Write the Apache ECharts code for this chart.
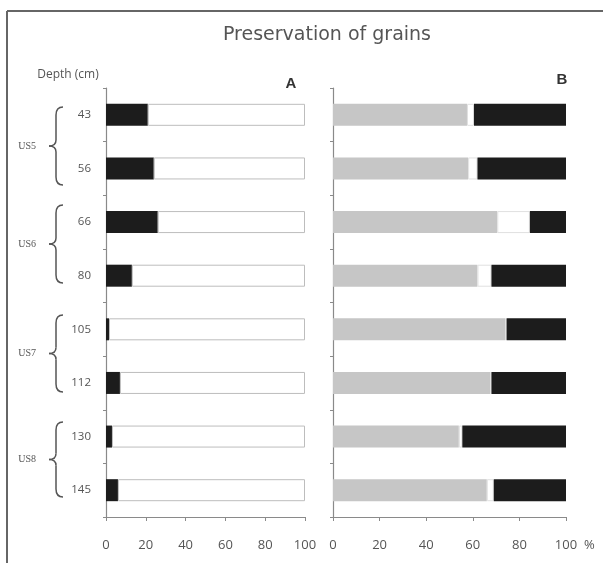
<!DOCTYPE html>
<html>
<head>
<meta charset="utf-8">
<script src="https://cdn.jsdelivr.net/npm/echarts@6/dist/echarts.min.js"></script>
<style>html,body{margin:0;padding:0;background:#fff}#c{width:603px;height:563px}</style>
</head>
<body>
<div id="c"></div>
<script>
var depths = ['43','56','66','80','105','112','130','145'];
var aBlack = [21, 24, 26, 13, 1.5, 7, 3, 6];
var aWhite = [79, 76, 74, 87, 98.5, 93, 97, 94];
var bGray  = [57.5, 58, 70.5, 62, 74, 67.5, 54, 66];
var bWhite = [3, 4, 14, 6, 0.5, 0.5, 1.5, 3];
var bBlack = [39.5, 38, 15.5, 32, 25.5, 32, 44.5, 31];
var xTicks = [0, 20, 40, 60, 80, 100];
var units = [
  {name:'US5', y1:107, y2:185},
  {name:'US6', y1:205, y2:283},
  {name:'US7', y1:315, y2:392},
  {name:'US8', y1:422, y2:497}
];

var chart = echarts.init(document.getElementById('c'));
var axisGray = '#8a8a8a';
var labelFont = {color:'#555', fontFamily:'Open Sans', fontSize:13};

function xAx(idx){
  return {
    type:'value', gridIndex:idx, min:xTicks[0], max:xTicks[xTicks.length-1], interval:20,
    axisLine:{show:true, lineStyle:{color:axisGray, width:1.2}},
    axisTick:{show:true, length:4, lineStyle:{color:axisGray}},
    splitLine:{show:false},
    axisLabel:Object.assign({margin:22}, labelFont)
  };
}
function yAx(idx, showLabel){
  return {
    type:'category', gridIndex:idx, data:depths, inverse:true,
    axisLine:{show:true, lineStyle:{color:axisGray, width:1.2}},
    axisTick:{show:true, length:3, lineStyle:{color:axisGray}},
    axisLabel:{show:showLabel, color:'#555', fontFamily:'Open Sans', fontSize:11.5, margin:15}
  };
}

function braceParts(u){
  var x0=63, xm=56, xt=49, ym=(u.y1+u.y2)/2;
  var st = {stroke:'#555', lineWidth:1.5, fill:null};
  return [
    {type:'bezierCurve', shape:{x1:x0, y1:u.y1, x2:xm, y2:u.y1+8, cpx1:xm, cpy1:u.y1}, style:st},
    {type:'line', shape:{x1:xm, y1:u.y1+8, x2:xm, y2:ym-6}, style:st},
    {type:'bezierCurve', shape:{x1:xm, y1:ym-6, x2:xt, y2:ym, cpx1:xm, cpy1:ym}, style:st},
    {type:'bezierCurve', shape:{x1:xt, y1:ym, x2:xm, y2:ym+6, cpx1:xm, cpy1:ym}, style:st},
    {type:'line', shape:{x1:xm, y1:ym+6, x2:xm, y2:u.y2-8}, style:st},
    {type:'bezierCurve', shape:{x1:xm, y1:u.y2-8, x2:x0, y2:u.y2, cpx1:xm, cpy1:u.y2}, style:st}
  ];
}

var graphics = [
  {type:'line', shape:{x1:7, y1:11, x2:603, y2:11}, style:{stroke:'#666', lineWidth:2}},
  {type:'line', shape:{x1:7, y1:11, x2:7, y2:563}, style:{stroke:'#666', lineWidth:2}},
  {type:'text', x:327, y:35, style:{text:'Preservation of grains', font:'19px "DejaVu Sans"', fill:'#555', align:'center', verticalAlign:'middle'}},
  {type:'text', x:68, y:75, style:{text:'Depth (cm)', font:'12px "Open Sans"', fill:'#555', align:'center', verticalAlign:'middle'}},
  {type:'text', x:291, y:84, style:{text:'A', font:'bold 15px "Liberation Sans"', fill:'#333', align:'center', verticalAlign:'middle'}},
  {type:'text', x:562, y:80, style:{text:'B', font:'bold 15px "Liberation Sans"', fill:'#333', align:'center', verticalAlign:'middle'}},
  {type:'text', x:584, y:545, style:{text:'%', font:'13px "Open Sans"', fill:'#555', align:'left', verticalAlign:'middle'}}
];
units.forEach(function(u){
  graphics = graphics.concat(braceParts(u));
  graphics.push({type:'text', x:36, y:(u.y1+u.y2)/2, style:{text:u.name, font:'10px "Liberation Serif"', fill:'#555', align:'right', verticalAlign:'middle'}});
});

chart.setOption({
  animation:false,
  backgroundColor:'#fff',
  grid:[
    {left:106, top:88, width:199, height:429},
    {left:333, top:88, width:233, height:429}
  ],
  xAxis:[xAx(0), xAx(1)],
  yAxis:[yAx(0,true), yAx(1,false)],
  series:[
    {type:'bar', xAxisIndex:0, yAxisIndex:0, stack:'a', data:aBlack, barWidth:22, itemStyle:{color:'#1c1c1c'}},
    {type:'bar', xAxisIndex:0, yAxisIndex:0, stack:'a', data:aWhite, barWidth:22, itemStyle:{color:'#fff', borderColor:'#bdbdbd', borderWidth:1}},
    {type:'bar', xAxisIndex:1, yAxisIndex:1, stack:'b', data:bGray, barWidth:22, itemStyle:{color:'#c6c6c6'}},
    {type:'bar', xAxisIndex:1, yAxisIndex:1, stack:'b', data:bWhite, barWidth:22, itemStyle:{color:'#fff', borderColor:'#e0e0e0', borderWidth:1}},
    {type:'bar', xAxisIndex:1, yAxisIndex:1, stack:'b', data:bBlack, barWidth:22, itemStyle:{color:'#1c1c1c'}}
  ],
  graphic:graphics
});
</script>
</body>
</html>
